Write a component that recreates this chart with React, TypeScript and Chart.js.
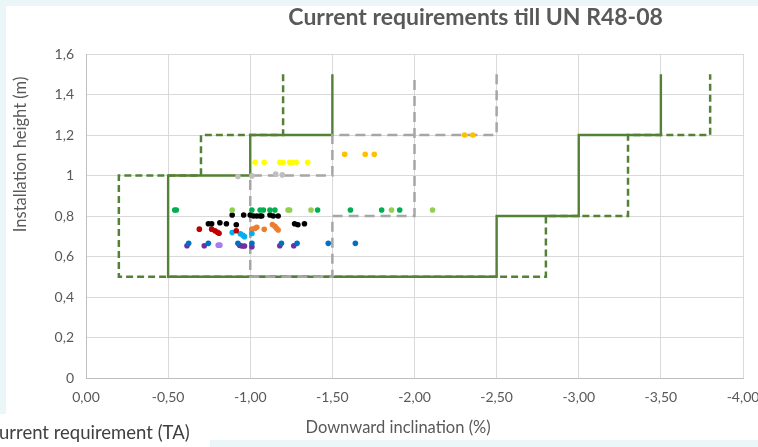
import React, { useEffect, useRef } from 'react';
import { Chart, registerables } from 'chart.js';

Chart.register(...registerables);

// ---- Data ----
const chartTitle = 'Current requirements till UN R48-08';
const xAxisTitle = 'Downward inclination (%)';
const yAxisTitle = 'Installation height (m)';
const sideNote = 'urrent requirement (TA)';

const xMin = -4;
const xMax = 0;
const xStep = 0.5;
const yMin = 0;
const yMax = 1.6;
const yStep = 0.2;

// Limit lines (x = inclination %, y = height m)
const solidLimit: [number, number][] = [
  [-1.5, 1.5], [-1.5, 1.2], [-1.0, 1.2], [-1.0, 1.0], [-0.5, 1.0], [-0.5, 0.5],
  [-2.5, 0.5], [-2.5, 0.8], [-3.0, 0.8], [-3.0, 1.2], [-3.5, 1.2], [-3.5, 1.5],
];
const dashedLimit: [number, number][] = [
  [-1.2, 1.5], [-1.2, 1.2], [-0.7, 1.2], [-0.7, 1.0], [-0.2, 1.0], [-0.2, 0.5],
  [-2.8, 0.5], [-2.8, 0.8], [-3.3, 0.8], [-3.3, 1.2], [-3.8, 1.2], [-3.8, 1.5],
];
const grayLimit: [number, number][] = [
  [-2.5, 1.5], [-2.5, 1.2], [-1.5, 1.2], [-1.5, 1.0], [-1.0, 1.0], [-1.0, 0.5],
  [-1.5, 0.5], [-1.5, 0.8], [-2.0, 0.8], [-2.0, 1.5],
];

// Measured lamps
const greenPts: [number, number][] = [
  [-0.54, 0.83], [-0.55, 0.83], [-1.01, 0.83], [-1.06, 0.83], [-1.08, 0.83], [-1.12, 0.83],
  [-1.15, 0.83], [-1.41, 0.83], [-1.61, 0.83], [-1.80, 0.83], [-1.91, 0.83],
];
const lightGreenPts: [number, number][] = [
  [-0.89, 0.83], [-1.23, 0.83], [-1.24, 0.83], [-1.37, 0.83], [-1.86, 0.83], [-2.11, 0.83],
];
const blackPts: [number, number][] = [
  [-0.89, 0.805], [-0.96, 0.805], [-1.0, 0.805], [-1.02, 0.8], [-1.04, 0.8], [-1.06, 0.8],
  [-1.07, 0.8], [-1.12, 0.805], [-1.14, 0.8], [-1.17, 0.8],
  [-0.745, 0.762], [-0.765, 0.762], [-0.815, 0.767], [-0.855, 0.762], [-0.915, 0.757],
  [-1.27, 0.762], [-1.29, 0.757], [-1.33, 0.762],
];
const redPts: [number, number][] = [
  [-0.69, 0.735], [-0.765, 0.735], [-0.785, 0.727], [-0.8, 0.72], [-0.81, 0.715], [-0.915, 0.727],
];
const lightBluePts: [number, number][] = [
  [-0.89, 0.718], [-0.94, 0.712], [-0.955, 0.705], [-0.965, 0.698], [-1.01, 0.713],
];
const orangePts: [number, number][] = [
  [-1.01, 0.735], [-1.03, 0.739], [-1.04, 0.744], [-1.085, 0.734], [-1.135, 0.758],
  [-1.15, 0.749], [-1.16, 0.739], [-1.17, 0.731],
];
const bluePts: [number, number][] = [
  [-0.625, 0.665], [-0.745, 0.665], [-0.925, 0.665], [-1.01, 0.665], [-1.19, 0.665],
  [-1.285, 0.665], [-1.475, 0.665], [-1.64, 0.665],
];
const purplePts: [number, number][] = [
  [-0.615, 0.653], [-0.72, 0.653], [-0.935, 0.655], [-0.95, 0.652], [-0.965, 0.652],
  [-1.01, 0.648], [-1.18, 0.653], [-1.265, 0.653],
];
const lightPurplePts: [number, number][] = [
  [-0.805, 0.656], [-0.815, 0.656],
];
const yellowPts: [number, number][] = [
  [-1.03, 1.065], [-1.085, 1.065], [-1.18, 1.065], [-1.2, 1.065], [-1.24, 1.065],
  [-1.255, 1.065], [-1.28, 1.065], [-1.35, 1.065],
];
const silverPts: [number, number][] = [
  [-0.925, 0.995], [-1.01, 0.998], [-1.155, 1.007], [-1.195, 1.003],
];
const goldPts: [number, number][] = [
  [-1.575, 1.105], [-1.7, 1.105], [-1.755, 1.105], [-2.305, 1.2], [-2.355, 1.2],
];

const toXY = (arr: [number, number][]) => arr.map(([x, y]) => ({ x, y }));

const FONT = 'Lato, "Open Sans", sans-serif';

const bgPlugin = {
  id: 'slideBg',
  beforeDraw(chart: any) {
    const { ctx, width, height } = chart;
    ctx.save();
    ctx.fillStyle = '#ffffff';
    ctx.fillRect(0, 0, width, height);
    ctx.fillStyle = '#ebf6f8';
    ctx.fillRect(0, 0, width, 6);
    ctx.fillRect(0, 0, 6, 414);
    ctx.fillRect(210, 440, width - 210, height - 440);
    ctx.restore();
  },
  afterDraw(chart: any) {
    const { ctx, chartArea } = chart;
    const w = chartArea.right - chartArea.left;
    const h = chartArea.bottom - chartArea.top;
    ctx.save();
    ctx.textAlign = 'center';
    ctx.textBaseline = 'middle';
    // chart title
    ctx.fillStyle = '#595959';
    ctx.font = `bold 23px ${FONT}`;
    ctx.fillText(chartTitle, chartArea.left + w * 0.593, 18);
    // x axis title
    ctx.font = `16.5px ${FONT}`;
    ctx.fillText(xAxisTitle, chartArea.left + w * 0.475, 428);
    // y axis title
    ctx.save();
    ctx.translate(21, chartArea.top + h * 0.31);
    ctx.rotate(-Math.PI / 2);
    ctx.fillText(yAxisTitle, 0, 0);
    ctx.restore();
    // slide text behind the chart
    ctx.fillStyle = '#404040';
    ctx.font = `18.5px ${FONT}`;
    ctx.textAlign = 'left';
    ctx.fillText(sideNote, -1, 433);
    ctx.restore();
  },
};

export default function App() {
  const ref = useRef<HTMLCanvasElement | null>(null);
  useEffect(() => {
    if (!ref.current) return;
    const lineDs = (label: string, data: [number, number][], color: string, width: number, dash: number[], order: number) => ({
      type: 'scatter' as const,
      label,
      data: toXY(data),
      showLine: true,
      borderColor: color,
      backgroundColor: color,
      borderWidth: width,
      borderDash: dash,
      pointRadius: 0,
      fill: false,
      tension: 0,
      order,
    });
    const ptDs = (label: string, data: [number, number][], color: string) => ({
      type: 'scatter' as const,
      label,
      data: toXY(data),
      showLine: false,
      backgroundColor: color,
      borderColor: color,
      borderWidth: 0,
      pointRadius: 2.8,
      order: 0,
    });
    const chart = new Chart(ref.current, {
      type: 'scatter',
      data: {
        datasets: [
          ptDs('green', greenPts, '#00b050'),
          ptDs('light green', lightGreenPts, '#92d050'),
          ptDs('black', blackPts, '#000000'),
          ptDs('red', redPts, '#c00000'),
          ptDs('light blue', lightBluePts, '#00b0f0'),
          ptDs('orange', orangePts, '#ed7d31'),
          ptDs('blue', bluePts, '#0070c0'),
          ptDs('purple', purplePts, '#7030a0'),
          ptDs('light purple', lightPurplePts, '#a77cf2'),
          ptDs('yellow', yellowPts, '#ffff00'),
          ptDs('silver', silverPts, '#bfbfbf'),
          ptDs('gold', goldPts, '#ffc000'),
          lineDs('gray limit', grayLimit, '#a6a6a6', 2.5, [10, 6], 1),
          lineDs('solid limit', solidLimit, '#538135', 2.4, [], 2),
          lineDs('dashed limit', dashedLimit, '#538135', 2.5, [7, 4], 3),
        ] as any,
      },
      options: {
        responsive: false,
        devicePixelRatio: 1,
        animation: false,
        layout: { padding: { top: 54, right: 15, left: 8, bottom: 4 } },
        plugins: {
          legend: { display: false },
          title: { display: false },
          tooltip: { enabled: false },
        },
        scales: {
          x: {
            type: 'linear',
            min: xMin,
            max: xMax,
            reverse: true,
            afterFit: (s: any) => { s.height = 65; s.paddingLeft = 0; s.paddingRight = 0; },
            ticks: {
              stepSize: xStep,
              color: '#595959',
              font: { family: FONT, size: 14 },
              padding: 11,
              callback: (v: any) => Number(v).toFixed(2).replace('.', ','),
            },
            grid: { color: '#d9d9d9', lineWidth: 1, drawTicks: false },
            border: { color: '#bfbfbf', width: 1 },
            title: { display: false },
          },
          y: {
            type: 'linear',
            min: yMin,
            max: yMax,
            afterFit: (s: any) => { s.width = 78; s.paddingTop = 0; s.paddingBottom = 0; },
            ticks: {
              stepSize: yStep,
              color: '#595959',
              font: { family: FONT, size: 14 },
              padding: 12,
              callback: (v: any) => String(Number(Number(v).toFixed(1))).replace('.', ','),
            },
            grid: { color: '#d9d9d9', lineWidth: 1, drawTicks: false },
            border: { color: '#bfbfbf', width: 1 },
            title: { display: false },
          },
        },
      },
      plugins: [bgPlugin],
    });
    return () => chart.destroy();
  }, []);
  return (
    <div style={{ position: 'fixed', left: 0, top: 0, width: 758, height: 447 }}>
      <canvas ref={ref} width={758} height={447} style={{ width: 758, height: 447, display: 'block' }} />
    </div>
  );
}
